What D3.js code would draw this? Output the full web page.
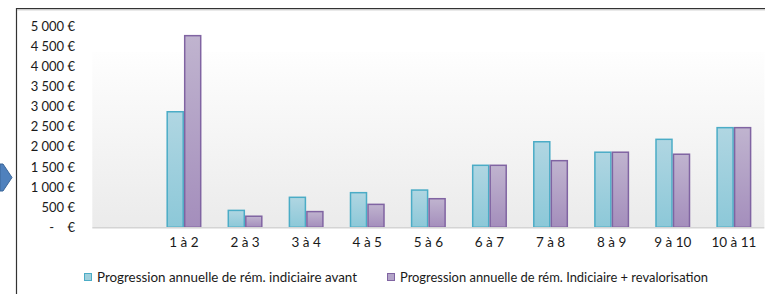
<!DOCTYPE html>
<html>
<head>
<meta charset="utf-8">
<script src="https://cdn.jsdelivr.net/npm/d3@7"></script>
<style>
  html, body { margin: 0; padding: 0; background: #fff; }
  svg { display: block; font-family: Lato, "Open Sans", sans-serif; }
</style>
</head>
<body>
<svg id="chart"></svg>
<script>
// categories (first one is an empty slot, as in the source sheet)
const categories = ["", "1 à 2", "2 à 3", "3 à 4", "4 à 5", "5 à 6", "6 à 7", "7 à 8", "8 à 9", "9 à 10", "10 à 11"];
const seriesNames = [
    "Progression annuelle de rém. indiciaire avant",
    "Progression annuelle de rém. Indiciaire + revalorisation"
];
const avant = [null, 2870, 420, 745, 860, 925, 1540, 2125, 1865, 2185, 2475];
const revalo = [null, 4760, 275, 390, 570, 710, 1540, 1655, 1865, 1815, 2475];
const yTicks = [0, 500, 1000, 1500, 2000, 2500, 3000, 3500, 4000, 4500, 5000];

const W = 765, H = 294;
const svg = d3.select("#chart").attr("width", W).attr("height", H);

const defs = svg.append("defs");
function grad(id, c1, c2) {
    const g = defs.append("linearGradient").attr("id", id)
        .attr("x1", 0).attr("y1", 0).attr("x2", 0).attr("y2", 1);
    g.append("stop").attr("offset", "0%").attr("stop-color", c1);
    g.append("stop").attr("offset", "100%").attr("stop-color", c2);
}
grad("bgGrad", "#fefefe", "#ebebeb");
grad("blueGrad", "#b0d6e2", "#8cc8d8");
grad("purpleGrad", "#c0b4cf", "#a48ebc");

const colors = [
    { fill: "url(#blueGrad)", stroke: "#4bacc6", swatch: "#9fd0dd" },
    { fill: "url(#purpleGrad)", stroke: "#8064a2", swatch: "#b3a4c8" }
];

// frame + arrow on the left
svg.append("line").attr("x1", 16.5).attr("x2", 16.5).attr("y1", 8).attr("y2", H)
    .attr("stroke", "#333").attr("stroke-width", 1.2);
svg.append("line").attr("x1", 16).attr("x2", W).attr("y1", 8.5).attr("y2", 8.5)
    .attr("stroke", "#333").attr("stroke-width", 1.2);
svg.append("line").attr("x1", 17).attr("x2", W).attr("y1", 9.8).attr("y2", 9.8)
    .attr("stroke", "#b5b5b5").attr("stroke-width", 1);
svg.append("path")
    .attr("d", "M0,164 L3,164 L12,177.5 L3,191 L0,191 Z")
    .attr("fill", "#4f81bd").attr("stroke", "#3a6699").attr("stroke-width", 1);

const x0 = d3.scaleBand().domain(categories).range([92.3, 764.4]).paddingInner(0);
const x1 = d3.scaleBand().domain(seriesNames).range([0, x0.bandwidth()]).paddingInner(0).paddingOuter(0.745);
const y = d3.scaleLinear().domain([0, 5000]).range([227.3, 26]);

// plot wall
svg.append("rect")
    .attr("x", x0.range()[0]).attr("y", 52)
    .attr("width", x0.range()[1] - x0.range()[0]).attr("height", y(0) - 52)
    .attr("fill", "url(#bgGrad)");

// y axis labels
const fr = d3.formatLocale({ decimal: ",", thousands: "\u00a0", grouping: [3], currency: ["", " €"] });
const fmt = fr.format(",.0f");
const yAxis = d3.axisLeft(y).tickValues(yTicks).tickSize(0).tickPadding(0)
    .tickFormat(d => d === 0 ? "-\u00a0\u00a0\u00a0\u00a0€" : fmt(d) + " €");
const gy = svg.append("g").attr("transform", "translate(75,0)").call(yAxis);
gy.select(".domain").remove();
gy.selectAll("text").attr("font-size", 13).attr("fill", "#1a1a1a")
    .attr("font-family", "Lato, 'Open Sans', sans-serif");

// bars
const rows = categories.map((c, i) => ({ cat: c, vals: [avant[i], revalo[i]] }));
const groups = svg.append("g").selectAll("g")
    .data(rows).join("g")
    .attr("transform", d => `translate(${x0(d.cat)},0)`);
groups.selectAll("rect")
    .data(d => d.vals.map((v, k) => ({ v, k })).filter(e => e.v !== null))
    .join("rect")
    .attr("x", e => x1(seriesNames[e.k]) + 0.75)
    .attr("width", x1.bandwidth() - 1.5)
    .attr("y", e => y(e.v))
    .attr("height", e => y(0) - y(e.v))
    .attr("fill", e => colors[e.k].fill)
    .attr("stroke", e => colors[e.k].stroke)
    .attr("stroke-width", 1.5);

// baseline
svg.append("line")
    .attr("x1", x0.range()[0]).attr("x2", x0.range()[1])
    .attr("y1", y(0) + 0.5).attr("y2", y(0) + 0.5)
    .attr("stroke", "#d4d4d4").attr("stroke-width", 1.5);

// x axis labels
const xAxis = d3.axisBottom(x0).tickSize(0).tickPadding(0);
const gx = svg.append("g").attr("transform", `translate(0,${y(0) + 10})`).call(xAxis);
gx.select(".domain").remove();
gx.selectAll("text").attr("font-size", 13.5).attr("fill", "#1a1a1a")
    .attr("font-family", "Lato, 'Open Sans', sans-serif");

// legend
const legendX = [84, 387];
const legendW = [273, 321];
const lg = svg.append("g").selectAll("g")
    .data(seriesNames).join("g")
    .attr("transform", (d, i) => `translate(${legendX[i]},273)`);
lg.append("rect").attr("x", 0.5).attr("y", 0.5).attr("width", 7).attr("height", 7)
    .attr("fill", (d, i) => colors[i].swatch)
    .attr("stroke", (d, i) => colors[i].stroke).attr("stroke-width", 1);
lg.append("text")
    .attr("x", 13).attr("y", 9)
    .attr("font-size", 13.5).attr("fill", "#1a1a1a")
    .attr("textLength", (d, i) => legendW[i] - 13)
    .attr("lengthAdjust", "spacingAndGlyphs")
    .text(d => d);
</script>
</body>
</html>
